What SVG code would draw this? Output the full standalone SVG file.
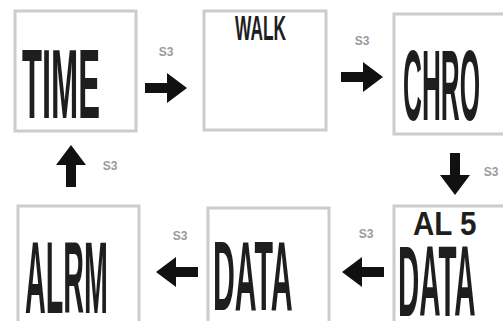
<svg xmlns="http://www.w3.org/2000/svg" width="503" height="321" viewBox="0 0 503 321">
  <style>
    .box { fill: #ffffff; stroke: #cccccc; stroke-width: 3; }
    .big { font-family: "Liberation Sans", Arial, sans-serif; font-weight: bold; fill: #1e1e1e; }
    .lbl { font-family: "Liberation Sans", Arial, sans-serif; font-weight: bold; font-size: 12px; fill: #9a9a9a; }
    .arr { fill: #111111; }
  </style>
  <defs>
    <path id="arrow" d="M0,-5 H22 V-15 L42,0 L22,15 V5 H0 Z"/>
  </defs>
  <rect width="503" height="321" fill="#ffffff"/>

  <g id="time">
    <rect class="box" x="15" y="11" width="121" height="120"/>
    <text class="big" font-size="99" transform="translate(22,118) scale(0.33,1)">TIME</text>
  </g>
  <g id="walk">
    <rect class="box" x="204" y="11" width="122" height="119"/>
    <text class="big" font-size="35" transform="translate(235,40) scale(0.495,1)">WALK</text>
  </g>
  <g id="chro">
    <rect class="box" x="394" y="14" width="122" height="120"/>
    <text class="big" font-size="100" transform="translate(403,120) scale(0.262,1)">CHRO</text>
  </g>
  <g id="data2">
    <rect class="box" x="394" y="206" width="122" height="130"/>
    <text class="big" font-size="34" transform="translate(413,235) scale(0.87,1)">AL 5</text>
    <text class="big" font-size="100" transform="translate(398,316) scale(0.295,1)">DATA</text>
  </g>
  <g id="data1">
    <rect class="box" x="208" y="208" width="121" height="130"/>
    <text class="big" font-size="98" transform="translate(213,310) scale(0.309,1)">DATA</text>
  </g>
  <g id="alrm">
    <rect class="box" x="18" y="206" width="121" height="130"/>
    <text class="big" font-size="102" transform="translate(25,313) scale(0.281,1)">ALRM</text>
  </g>

  <g id="connectors">
    <use class="arr" href="#arrow" transform="translate(145,88)"/>
    <text class="lbl" x="166" y="56" text-anchor="middle">S3</text>
    <use class="arr" href="#arrow" transform="translate(341,77)"/>
    <text class="lbl" x="362" y="45" text-anchor="middle">S3</text>
    <use class="arr" href="#arrow" transform="translate(455,153) rotate(90)"/>
    <text class="lbl" x="491" y="176" text-anchor="middle">S3</text>
    <use class="arr" href="#arrow" transform="translate(384,272) rotate(180)"/>
    <text class="lbl" x="366" y="238" text-anchor="middle">S3</text>
    <use class="arr" href="#arrow" transform="translate(198,272) rotate(180)"/>
    <text class="lbl" x="180" y="240" text-anchor="middle">S3</text>
    <use class="arr" href="#arrow" transform="translate(71,187) rotate(-90)"/>
    <text class="lbl" x="110" y="170" text-anchor="middle">S3</text>
  </g>
</svg>
